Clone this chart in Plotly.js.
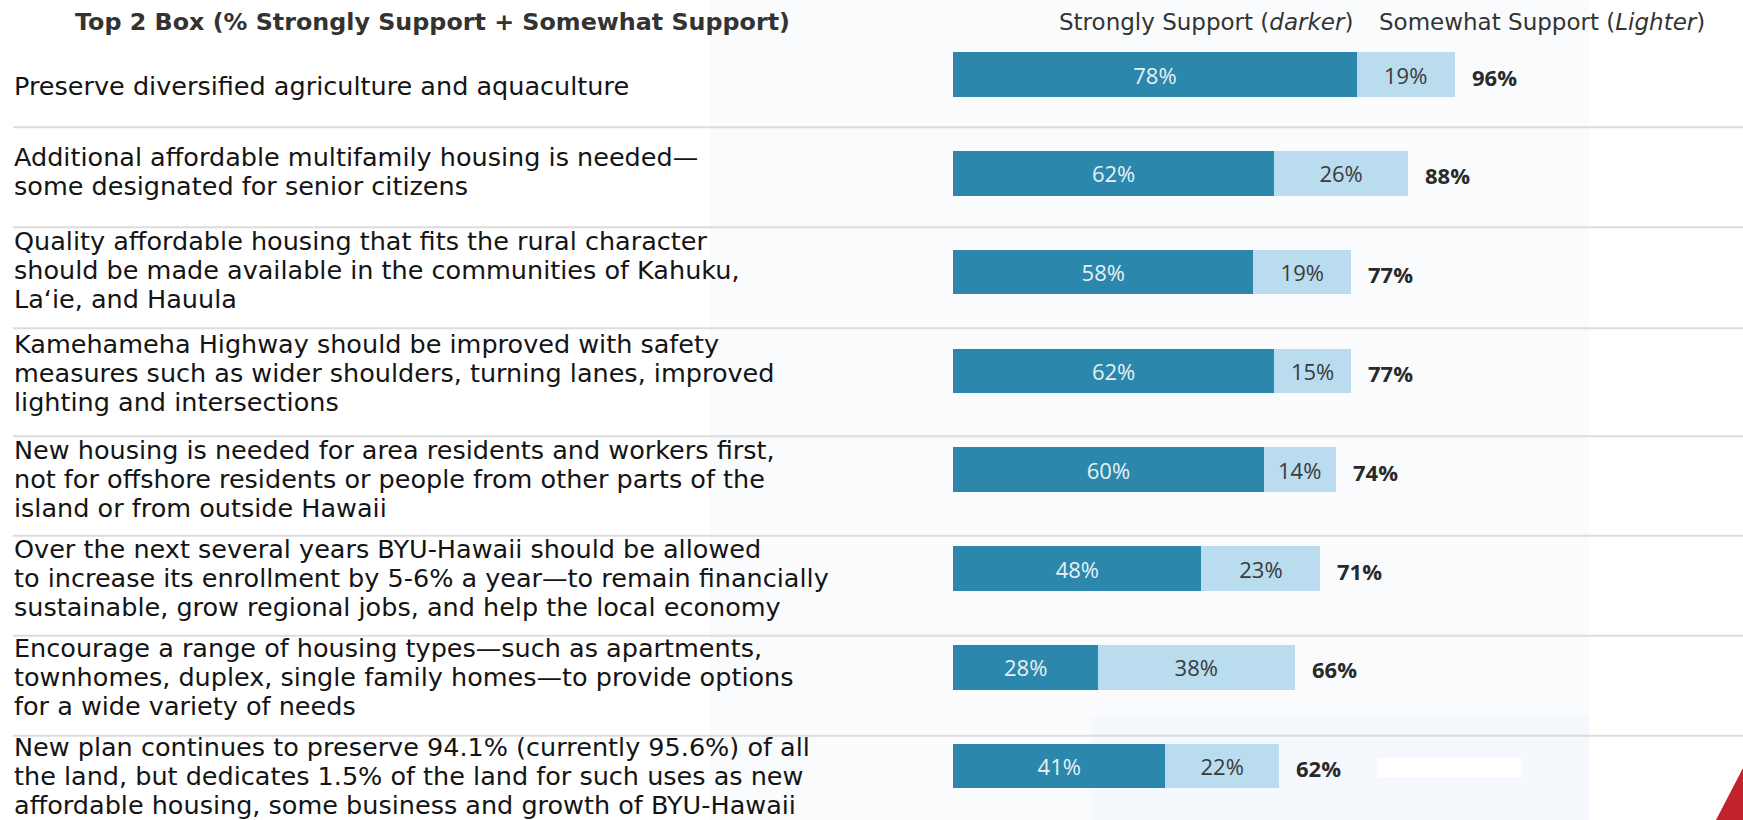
<!DOCTYPE html>
<html>
<head>
<meta charset="utf-8">
<script src="https://cdn.plot.ly/plotly-3.0.1.min.js"></script>
<style>html,body{margin:0;padding:0;background:#fff;}#chart{width:1743px;height:820px;}</style>
</head>
<body>
<div id="chart"></div>
<script>
// ---- data ----
const LABEL_LINES = [
  ["Preserve diversified agriculture and aquaculture"],
  ["Additional affordable multifamily housing is needed—", "some designated for senior citizens"],
  ["Quality affordable housing that fits the rural character", "should be made available in the communities of Kahuku,", "La‘ie, and Hauula"],
  ["Kamehameha Highway should be improved with safety", "measures such as wider shoulders, turning lanes, improved", "lighting and intersections"],
  ["New housing is needed for area residents and workers first,", "not for offshore residents or people from other parts of the", "island or from outside Hawaii"],
  ["Over the next several years BYU-Hawaii should be allowed", "to increase its enrollment by 5-6% a year—to remain financially", "sustainable, grow regional jobs, and help the local economy"],
  ["Encourage a range of housing types—such as apartments,", "townhomes, duplex, single family homes—to provide options", "for a wide variety of needs"],
  ["New plan continues to preserve 94.1% (currently 95.6%) of all", "the land, but dedicates 1.5% of the land for such uses as new", "affordable housing, some business and growth of BYU-Hawaii"]
];
const STRONGLY = [78, 62, 58, 62, 60, 48, 28, 41];
const SOMEWHAT = [19, 26, 19, 15, 14, 23, 38, 22];
const TOP2 = [96, 88, 77, 77, 74, 71, 66, 62];
const TITLE = "Top 2 Box (% Strongly Support + Somewhat Support)";
const LEGEND_STRONG = "Strongly Support (<i>darker</i>)";
const LEGEND_SOME = "Somewhat Support (<i>Lighter</i>)";

const CATEGORIES = LABEL_LINES.map(l => l.join(" "));

// ---- layout helpers (pixel geometry) ----
const W = 1743, H = 820;
const X0PX = 953.3, PXPER = 5.17;           // 0% at x=953.3px, 5.17 px per percent
const XR = [-X0PX / PXPER, (W - X0PX) / PXPER];
const ROW0PX = 74.7, ROWPITCH = 98.76;       // bar centres
const YR = [(H - ROW0PX) / ROWPITCH, -ROW0PX / ROWPITCH];
const BARW = 44.5 / ROWPITCH;
const px = p => p / W;
const py = p => 1 - p / H;

const SEP_Y = [127.3, 227.3, 328.3, 436.3, 535.7, 635.7, 735.7];
const LABEL_TOP = [86, 157, 241, 344, 450, 549, 648, 747];
const LINE_PITCH = 29.2;

const DARK = "#2b87ac", LIGHT = "#b9dcee";
const TXT_FONT = "DejaVu Sans, Verdana, sans-serif";
const BAR_FONT = "Open Sans, Noto Sans, sans-serif";

const traces = [
  {
    type: "bar", orientation: "h", name: "Strongly Support",
    x: STRONGLY, y: CATEGORIES, width: BARW,
    marker: {color: DARK, line: {width: 0}},
    text: STRONGLY.map(v => v + "%"), textposition: "inside", insidetextanchor: "middle",
    constraintext: "none",
    textfont: {family: BAR_FONT, size: 22, color: "#e8f0f4"},
    hoverinfo: "skip"
  },
  {
    type: "bar", orientation: "h", name: "Somewhat Support",
    x: SOMEWHAT, y: CATEGORIES, width: BARW,
    marker: {color: LIGHT, line: {width: 0}},
    text: SOMEWHAT.map(v => v + "%"), textposition: "inside", insidetextanchor: "middle",
    constraintext: "none",
    textfont: {family: BAR_FONT, size: 22, color: "#3a3a3a"},
    hoverinfo: "skip"
  }
];

const annotations = [];
annotations.push({xref: "paper", yref: "paper", x: px(432), y: py(22), xanchor: "center", yanchor: "middle",
  text: "<b>" + TITLE + "</b>", showarrow: false, font: {family: TXT_FONT, size: 23.8, color: "#333"}});
annotations.push({xref: "paper", yref: "paper", x: px(1057), y: py(22), xanchor: "left", yanchor: "middle",
  text: LEGEND_STRONG, showarrow: false, font: {family: TXT_FONT, size: 23, color: "#333"}});
annotations.push({xref: "paper", yref: "paper", x: px(1377), y: py(22), xanchor: "left", yanchor: "middle",
  text: LEGEND_SOME, showarrow: false, font: {family: TXT_FONT, size: 23, color: "#333"}});

LABEL_LINES.forEach((lines, i) => {
  lines.forEach((ln, j) => {
    annotations.push({xref: "paper", yref: "paper", x: px(12), y: py(LABEL_TOP[i] + j * LINE_PITCH),
      xanchor: "left", yanchor: "middle", text: ln, showarrow: false,
      font: {family: TXT_FONT, size: 25.5, color: "#141414"}});
  });
});

CATEGORIES.forEach((c, i) => {
  annotations.push({xref: "x", yref: "y", x: STRONGLY[i] + SOMEWHAT[i], y: c,
    xanchor: "left", yanchor: "middle", xshift: 15, yshift: -2, showarrow: false,
    text: "<b>" + TOP2[i] + "%</b>", font: {family: BAR_FONT, size: 22, color: "#2a2a2a"}});
});

const shapes = [];
// faint background panels
shapes.push({type: "rect", xref: "paper", yref: "paper", x0: px(710), x1: px(1589), y0: 0, y1: 1,
  fillcolor: "#fafbfc", line: {width: 0}, layer: "below"});
shapes.push({type: "rect", xref: "paper", yref: "paper", x0: px(1091), x1: px(1589), y0: 0, y1: py(717),
  fillcolor: "#f5f9fd", line: {width: 0}, layer: "below"});
shapes.push({type: "rect", xref: "paper", yref: "paper", x0: px(1377), x1: px(1521), y0: py(777), y1: py(758),
  fillcolor: "#ffffff", line: {width: 0}, layer: "below"});
SEP_Y.forEach(s => {
  shapes.push({type: "line", xref: "paper", yref: "paper", x0: px(13), x1: 1, y0: py(s), y1: py(s),
    line: {color: "#dcdcdc", width: 2}, layer: "below"});
});
// red corner decoration
shapes.push({type: "path", xref: "paper", yref: "paper",
  path: `M ${px(1716)} ${py(820)} L ${px(1743)} ${py(768)} L ${px(1743)} ${py(820)} Z`,
  fillcolor: "#c0232b", line: {width: 0}, layer: "above"});

const layout = {
  width: W, height: H,
  margin: {l: 0, r: 0, t: 0, b: 0, pad: 0},
  paper_bgcolor: "#ffffff", plot_bgcolor: "rgba(0,0,0,0)",
  barmode: "stack", showlegend: false,
  xaxis: {range: XR, visible: false, fixedrange: true},
  yaxis: {type: "category", categoryorder: "array", categoryarray: CATEGORIES, range: YR, visible: false, fixedrange: true},
  annotations: annotations, shapes: shapes,
  uniformtext: {mode: false}
};

Plotly.newPlot("chart", traces, layout, {displayModeBar: false, staticPlot: true});
</script>
</body>
</html>
